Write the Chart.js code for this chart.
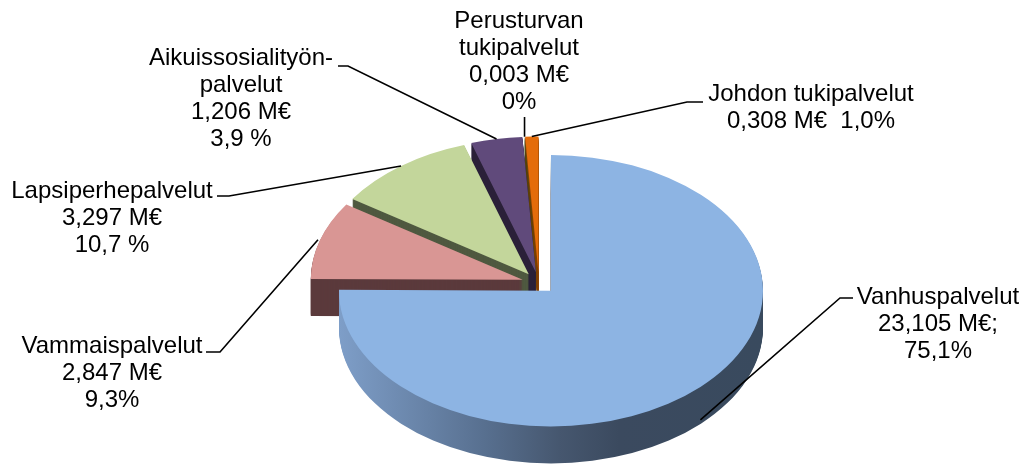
<!DOCTYPE html>
<html>
<head>
<meta charset="utf-8">
<script src="https://cdn.jsdelivr.net/npm/chart.js@4.4.0/dist/chart.umd.min.js"></script>
<style>
  html, body { margin: 0; padding: 0; background: #ffffff; }
  #wrap { width: 1026px; height: 467px; }
</style>
</head>
<body>
<div id="wrap"><canvas id="pie-chart" width="1026" height="467"></canvas></div>
<script>
// Data (M€), clockwise from 12 o'clock
const categories = ['Vanhuspalvelut', 'Vammaispalvelut', 'Lapsiperhepalvelut',
    'Aikuissosialityönpalvelut', 'Perusturvan tukipalvelut', 'Johdon tukipalvelut'];
const valuesMeur = [23.105, 2.847, 3.297, 1.206, 0.003, 0.308];
const labelLines = [
    ['Vanhuspalvelut', '23,105 M€;', '75,1%'],
    ['Vammaispalvelut', '2,847 M€', '9,3%'],
    ['Lapsiperhepalvelut', '3,297 M€', '10,7 %'],
    ['Aikuissosialityön-', 'palvelut', '1,206 M€', '3,9 %'],
    ['Perusturvan', 'tukipalvelut', '0,003 M€', '0%'],
    ['Johdon tukipalvelut', '0,308 M€  1,0%']
];

const topColors = ['#8DB4E3', '#D99694', '#C3D69B', '#604A7B', '#77802A', '#E46C0A'];
const sideColors = [null, '#5B3A3C', '#4F5940', '#2B2139', '#3E4416', '#8A4206'];

const TILT = 0.64;     // vertical squash of the pie
const DEPTH = 37;      // thickness in px
const EXPLODE = 17;    // slice explosion in px

// label placement: text centre x, first line centre y, elbow segment
const labelPlaces = [
    { x: 938, y: 297, elbow: [853, 298, 840, 298], f: 1.0, extra: DEPTH - 4 },
    { x: 112, y: 346, elbow: [206, 352, 220, 352], f: 1.01, extra: 0 },
    { x: 112, y: 191, elbow: [217, 196, 229, 196], f: 1.0, extra: 0 },
    { x: 241, y: 58, elbow: [338, 66, 348, 66], f: 1.0, extra: 0 },
    { x: 519, y: 21, elbow: null, top: 117, f: 1.0, extra: 0 },
    { x: 811, y: 94, elbow: [703, 102, 687, 102], f: 1.0, extra: 0 }
];

function place(ctx, arc, dy) {
    const mid = (arc.startAngle + arc.endAngle) / 2;
    ctx.translate(0, dy);
    ctx.translate(arc.x, arc.y);
    ctx.scale(1, TILT);
    ctx.translate(-arc.x, -arc.y);
    ctx.translate(Math.cos(mid) * EXPLODE, Math.sin(mid) * EXPLODE);
}

const pie3d = {
    id: 'pie3d',
    beforeDatasetsDraw(chart) {
        const ctx = chart.ctx;
        const arcs = chart.getDatasetMeta(0).data;
        const r = arcs[0].outerRadius;
        const cx = arcs[0].x;
        // shaded side of the big slice
        const grad = ctx.createLinearGradient(cx - r, 0, cx + r, 0);
        grad.addColorStop(0, '#7E9EC8');
        grad.addColorStop(0.34, '#587090');
        grad.addColorStop(0.52, '#46576F');
        grad.addColorStop(0.66, '#3B4A5F');
        grad.addColorStop(1, '#394A5E');

        for (let d = DEPTH; d >= 1; d--) {
            arcs.forEach((arc, i) => {
                ctx.save();
                place(ctx, arc, d);
                ctx.beginPath();
                ctx.moveTo(arc.x, arc.y);
                ctx.arc(arc.x, arc.y, arc.outerRadius, arc.startAngle, arc.endAngle);
                ctx.closePath();
                ctx.fillStyle = i === 0 ? grad : sideColors[i];
                ctx.fill();
                ctx.restore();
            });
        }
        arcs.forEach(arc => {
            ctx.save();
            place(ctx, arc, 0);
            arc.draw(ctx);
            ctx.restore();
        });
        return false;
    },
    afterDraw(chart) {
        const ctx = chart.ctx;
        const arcs = chart.getDatasetMeta(0).data;
        ctx.save();
        ctx.strokeStyle = '#000000';
        ctx.lineWidth = 1.6;
        ctx.fillStyle = '#000000';
        ctx.font = '24px "Liberation Sans", Arial, sans-serif';
        ctx.textAlign = 'center';
        ctx.textBaseline = 'middle';
        arcs.forEach((arc, i) => {
            const p = labelPlaces[i];
            const mid = (arc.startAngle + arc.endAngle) / 2;
            const rr = EXPLODE + arc.outerRadius * p.f;
            const ax = arc.x + Math.cos(mid) * rr;
            const ay = arc.y + Math.sin(mid) * rr * TILT + p.extra;
            ctx.beginPath();
            if (p.elbow) {
                ctx.moveTo(p.elbow[0], p.elbow[1]);
                ctx.lineTo(p.elbow[2], p.elbow[3]);
            } else {
                ctx.moveTo(ax, p.top);
            }
            ctx.lineTo(ax, ay);
            ctx.stroke();
            labelLines[i].forEach((line, j) => {
                ctx.fillText(line, p.x, p.y + j * 27);
            });
        });
        ctx.restore();
    }
};

const ctx = document.getElementById('pie-chart').getContext('2d');
new Chart(ctx, {
    type: 'pie',
    data: {
        labels: categories,
        datasets: [{
            data: valuesMeur,
            backgroundColor: topColors,
            borderWidth: 0
        }]
    },
    options: {
        responsive: false,
        animation: false,
        events: [],
        radius: 212,
        layout: { padding: { left: 52, right: 0, top: 99, bottom: 0 } },
        plugins: {
            legend: { display: false },
            tooltip: { enabled: false }
        }
    },
    plugins: [pie3d]
});
</script>
</body>
</html>
